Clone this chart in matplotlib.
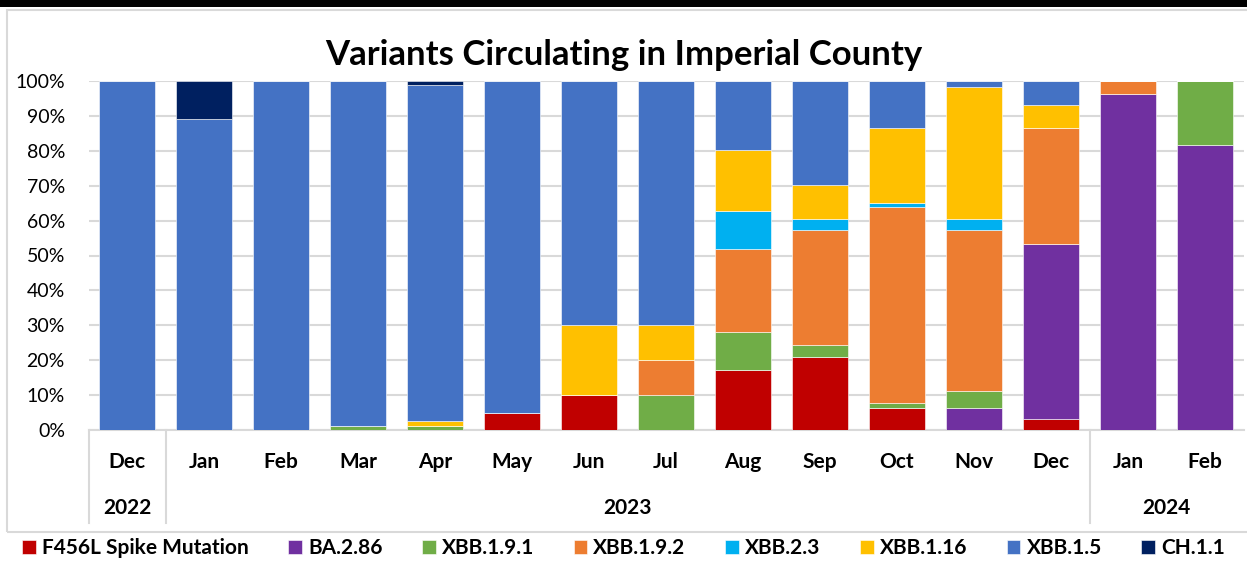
import matplotlib
matplotlib.use("Agg")
import matplotlib.pyplot as plt
import matplotlib.transforms as mtransforms
from matplotlib.patches import Rectangle
import numpy as np

plt.rcParams['font.family'] = ['Lato', 'DejaVu Sans']

months = ["Dec", "Jan", "Feb", "Mar", "Apr", "May", "Jun", "Jul", "Aug", "Sep", "Oct", "Nov", "Dec", "Jan", "Feb"]
years = ["2022", "2023", "2024"]
year_spans = [(0, 0), (1, 12), (13, 14)]

series_names = ["F456L Spike Mutation", "BA.2.86", "XBB.1.9.1", "XBB.1.9.2", "XBB.2.3", "XBB.1.16", "XBB.1.5", "CH.1.1"]
colors = ["#C00000", "#7030A0", "#70AD47", "#ED7D31", "#00B0F0", "#FFC000", "#4472C4", "#002060"]

f456l   = [0, 0, 0, 0,   0,   5,  10, 0,  17.2, 21.0, 6.4, 0,    3.1, 0,    0]
ba286   = [0, 0, 0, 0,   0,   0,  0,  0,  0,    0,    0,   6.4,  50.1, 96.4, 81.6]
xbb191  = [0, 0, 0, 1.2, 1.2, 0,  0,  10, 10.9, 3.4,  1.4, 4.9,  0,    0,    18.4]
xbb192  = [0, 0, 0, 0,   0,   0,  0,  10, 23.9, 32.8, 56.1, 45.9, 33.2, 3.6,  0]
xbb23   = [0, 0, 0, 0,   0,   0,  0,  0,  10.8, 3.2,  1.2, 3.2,  0,    0,    0]
xbb116  = [0, 0, 0, 0,   1.4, 0,  20, 10, 17.4, 9.9,  21.3, 37.8, 6.7, 0,    0]
xbb15   = [100, 89, 100, 98.8, 96.2, 95, 70, 70, 19.8, 29.7, 13.6, 1.8, 6.9, 0, 0]
ch11    = [0, 11, 0, 0,  1.2, 0,  0,  0,  0,    0,    0,   0,    0,    0,    0]

series = [f456l, ba286, xbb191, xbb192, xbb23, xbb116, xbb15, ch11]

W, H = 1247, 561
fig = plt.figure(figsize=(W / 100, H / 100), dpi=100)

# top black band and chart frame
fig.patches.append(Rectangle((0, 1 - 7 / H), 1, 7 / H, transform=fig.transFigure,
                             facecolor="black", edgecolor="none", zorder=0))
fig.patches.append(Rectangle((7 / W, 1 - 532 / H), (1260 - 7) / W, (532 - 10) / H,
                             transform=fig.transFigure, facecolor="none",
                             edgecolor="#D9D9D9", linewidth=1.5, zorder=0))

ax_l, ax_r, ax_b, ax_t = 88.5, 1243.5, 430, 81
ax = fig.add_axes([ax_l / W, 1 - ax_b / H, (ax_r - ax_l) / W, (ax_b - ax_t) / H])

x = np.arange(len(months))
bottom = np.zeros(len(months))
for name, vals, c in zip(series_names, series, colors):
    v = np.array(vals, dtype=float) / 100.0
    ax.bar(x, v, bottom=bottom, width=0.73, color=c, label=name,
           edgecolor="white", linewidth=0.4, zorder=3)
    bottom += v

ax.set_xlim(-0.5, len(months) - 0.5)
ax.set_ylim(0, 1)
ax.set_yticks(np.arange(0, 1.01, 0.1))
ax.set_yticklabels([f"{int(round(t * 100))}%" for t in np.arange(0, 1.01, 0.1)], fontsize=14)
ax.tick_params(axis="y", length=0, pad=17)
ax.tick_params(axis="x", length=0)
ax.set_xticks([])
ax.grid(axis="y", color="#D9D9D9", linewidth=1.5, zorder=0)
for s in ["top", "right", "left"]:
    ax.spines[s].set_visible(False)
ax.spines["bottom"].set_color("#D9D9D9")
ax.spines["bottom"].set_linewidth(1.5)

trans = mtransforms.blended_transform_factory(ax.transData, ax.transAxes)
axh = ax_b - ax_t
for i, m in enumerate(months):
    ax.text(i, -(462 - ax_b) / axh, m, transform=trans, ha="center", va="center",
            fontsize=15, fontweight="bold")
for yname, (a, b) in zip(years, year_spans):
    ax.text((a + b) / 2, -(508 - ax_b) / axh, yname, transform=trans, ha="center",
            va="center", fontsize=15, fontweight="bold")
# separators
for pos in [-0.5, 0.5, 12.5]:
    ax.plot([pos, pos], [0, -(523 - ax_b) / axh], transform=trans, color="#D9D9D9",
            linewidth=1.5, clip_on=False, zorder=1)

fig.text(0.5, 1 - 55 / H, "Variants Circulating in Imperial County", ha="center",
         va="center", fontsize=25, fontweight="bold")

handles, labels = ax.get_legend_handles_labels()
leg = fig.legend(handles, labels, loc="center", bbox_to_anchor=(0.5, 1 - 548 / H),
                 ncol=8, frameon=False, handlelength=0.65, handleheight=0.65,
                 handletextpad=0.3, columnspacing=1.9, prop={"size": 15, "weight": "bold"})

fig.savefig("out.png", dpi=100)
